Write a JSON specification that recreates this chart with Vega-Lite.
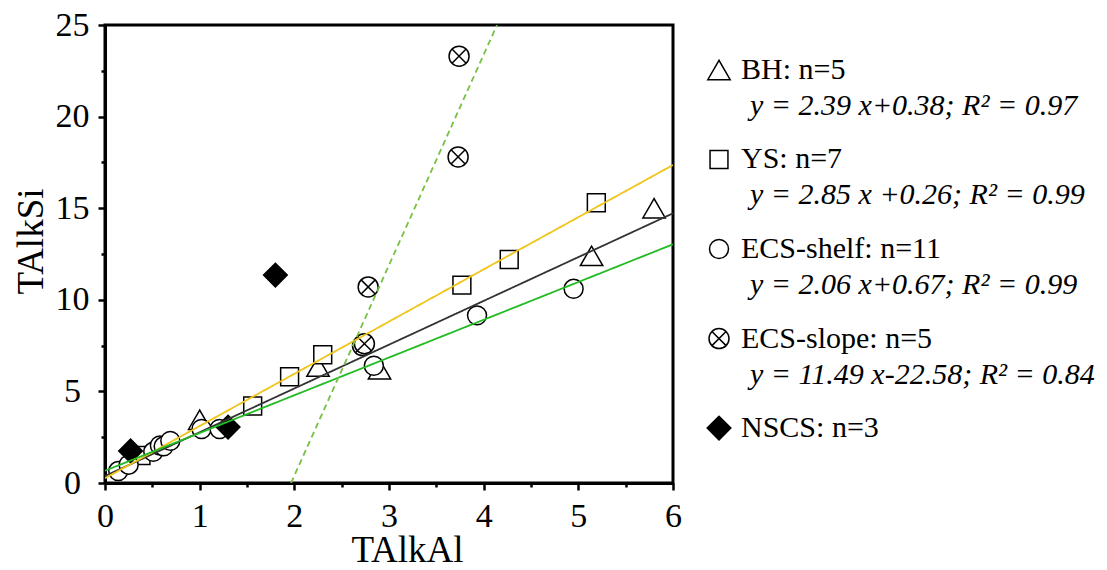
{
  "$schema": "https://vega.github.io/schema/vega-lite/v6.json",
  "padding": {"left": 10, "top": 6, "right": 5, "bottom": 0},
  "background": "white",
  "config": {
    "font": "Liberation Serif",
    "axis": {"labelFont": "Liberation Serif", "titleFont": "Liberation Serif"},
    "text": {"font": "Liberation Serif"},
    "view": {"stroke": null}
  },
  "datasets": {
    "pts": [
      {"group": "BH", "x": 1.0, "y": 3.45},
      {"group": "BH", "x": 2.25, "y": 6.35},
      {"group": "BH", "x": 2.9, "y": 6.2},
      {"group": "BH", "x": 5.14, "y": 12.4},
      {"group": "BH", "x": 5.8, "y": 15.0},
      {"group": "YS", "x": 0.38, "y": 1.5},
      {"group": "YS", "x": 1.56, "y": 4.2},
      {"group": "YS", "x": 1.95, "y": 5.8},
      {"group": "YS", "x": 2.3, "y": 7.0},
      {"group": "YS", "x": 3.77, "y": 10.8},
      {"group": "YS", "x": 4.27, "y": 12.2},
      {"group": "YS", "x": 5.19, "y": 15.3},
      {"group": "ECS-shelf", "x": 0.14, "y": 0.65},
      {"group": "ECS-shelf", "x": 0.25, "y": 1.0},
      {"group": "ECS-shelf", "x": 0.51, "y": 1.7},
      {"group": "ECS-shelf", "x": 0.58, "y": 2.05},
      {"group": "ECS-shelf", "x": 0.62, "y": 2.0},
      {"group": "ECS-shelf", "x": 0.69, "y": 2.3},
      {"group": "ECS-shelf", "x": 1.02, "y": 2.95},
      {"group": "ECS-shelf", "x": 1.21, "y": 2.95},
      {"group": "ECS-shelf", "x": 2.84, "y": 6.4},
      {"group": "ECS-shelf", "x": 3.93, "y": 9.15},
      {"group": "ECS-shelf", "x": 4.95, "y": 10.6},
      {"group": "ECS-slope", "x": 3.74, "y": 23.3},
      {"group": "ECS-slope", "x": 3.73, "y": 17.8},
      {"group": "ECS-slope", "x": 2.78, "y": 10.7},
      {"group": "ECS-slope", "x": 2.72, "y": 7.5},
      {"group": "ECS-slope", "x": 2.74, "y": 7.6},
      {"group": "NSCS", "x": 0.27, "y": 1.75},
      {"group": "NSCS", "x": 1.3, "y": 3.05},
      {"group": "NSCS", "x": 1.8, "y": 11.35}
    ],
    "fits": [
      {"group": "BH", "x": 0, "y": 0.38},
      {"group": "BH", "x": 6, "y": 14.72},
      {"group": "YS", "x": 0, "y": 0.26},
      {"group": "YS", "x": 6, "y": 17.36},
      {"group": "ECS-shelf", "x": 0, "y": 0.67},
      {"group": "ECS-shelf", "x": 6, "y": 13.03},
      {"group": "ECS-slope", "x": 1.965, "y": 0},
      {"group": "ECS-slope", "x": 4.141, "y": 25}
    ],
    "leg": [
      {"group": "BH", "kind": "head", "label": "BH: n=5"},
      {"group": "BH", "kind": "eq", "label": "y = 2.39 x+0.38; R² = 0.97"},
      {"group": "YS", "kind": "head", "label": "YS: n=7"},
      {"group": "YS", "kind": "eq", "label": "y = 2.85 x +0.26; R² = 0.99"},
      {"group": "ECS-shelf", "kind": "head", "label": "ECS-shelf: n=11"},
      {"group": "ECS-shelf", "kind": "eq", "label": "y = 2.06 x+0.67; R² = 0.99"},
      {"group": "ECS-slope", "kind": "head", "label": "ECS-slope: n=5"},
      {"group": "ECS-slope", "kind": "eq", "label": "y = 11.49 x-22.58; R² = 0.84"},
      {"group": "NSCS", "kind": "head", "label": "NSCS: n=3"}
    ]
  },
  "hconcat": [
    {
      "width": 568,
      "height": 458,
      "view": {"stroke": "black", "strokeWidth": 3},
      "layer": [
        {
          "data": {"name": "pts"},
          "mark": {"type": "point", "stroke": "black", "strokeWidth": 1.5, "opacity": 1, "fillOpacity": 1, "clip": true},
          "encoding": {
            "x": {"field": "x", "type": "quantitative",
              "scale": {"domain": [0, 6], "nice": false, "zero": false},
              "axis": {"orient": "bottom", "values": [0, 1, 2, 3, 4, 5, 6], "grid": false, "tickSize": 7, "tickWidth": 2.5, "tickColor": "black",
                "domainWidth": 3, "domainColor": "black", "labelFont": "Liberation Serif", "labelFontSize": 34, "labelColor": "black", "labelBaseline": "alphabetic",
                "labelPadding": 36, "labelFlush": false, "labelOverlap": false, "format": "d",
                "title": "TAlkAl", "titleFont": "Liberation Serif", "titleFontSize": 37, "titleFontWeight": "normal", "titleColor": "black",
                "titleX": 302, "titleY": 78, "titleBaseline": "alphabetic", "titleAlign": "center"}},
            "y": {"field": "y", "type": "quantitative",
              "scale": {"domain": [0, 25], "nice": false, "zero": false},
              "axis": {"orient": "left", "values": [0, 5, 10, 15, 20, 25], "grid": false, "tickSize": 7, "tickWidth": 2.5, "tickColor": "black",
                "domainWidth": 3, "domainColor": "black", "labelFont": "Liberation Serif", "labelFontSize": 34, "labelColor": "black", "labelAlign": "center",
                "labelBaseline": "middle", "labelPadding": 26, "labelFlush": false, "labelOverlap": false, "format": "d",
                "title": "TAlkSi", "titleFont": "Liberation Serif", "titleFontSize": 37, "titleFontWeight": "normal", "titleColor": "black",
                "titleX": -74, "titleY": 216, "titleAngle": -90, "titleBaseline": "middle", "titleAlign": "center"}},
            "shape": {"field": "group", "type": "nominal", "legend": null,
              "scale": {"type": "ordinal", "domain": ["BH", "YS", "ECS-shelf", "ECS-slope", "NSCS"],
                "range": ["triangle-up", "square", "circle", "M-1,0A1,1,0,1,0,1,0A1,1,0,1,0,-1,0ZM-0.7071,-0.7071L0.7071,0.7071M-0.7071,0.7071L0.7071,-0.7071", "diamond"]}},
            "size": {"field": "group", "type": "nominal", "legend": null,
              "scale": {"type": "ordinal", "domain": ["BH", "YS", "ECS-shelf", "ECS-slope", "NSCS"], "range": [500, 320, 360, 400, 560]}},
            "fill": {"field": "group", "type": "nominal", "legend": null,
              "scale": {"type": "ordinal", "domain": ["BH", "YS", "ECS-shelf", "ECS-slope", "NSCS"], "range": ["white", "white", "white", "white", "black"]}}
          }
        },
        {
          "data": {"name": "fits"},
          "mark": {"type": "line", "strokeWidth": 1.8, "clip": true},
          "encoding": {
            "x": {"field": "x", "type": "quantitative",
              "axis": {"orient": "bottom", "values": [0.5, 1.5, 2.5, 3.5, 4.5, 5.5], "grid": false, "labels": false, "domain": false,
                "tickSize": 4, "tickWidth": 2.5, "tickColor": "black", "title": null}},
            "y": {"field": "y", "type": "quantitative",
              "axis": {"orient": "left", "values": [2.5, 7.5, 12.5, 17.5, 22.5], "grid": false, "labels": false, "domain": false,
                "tickSize": 4, "tickWidth": 2.5, "tickColor": "black", "title": null}},
            "detail": {"field": "group"},
            "color": {"field": "group", "type": "nominal", "legend": null,
              "scale": {"domain": ["BH", "YS", "ECS-shelf", "ECS-slope"], "range": ["#333333", "#f0c419", "#22bb22", "#77c043"]}},
            "strokeDash": {"field": "group", "type": "nominal", "legend": null,
              "scale": {"domain": ["BH", "YS", "ECS-shelf", "ECS-slope"], "range": [[1, 0], [1, 0], [1, 0], [6, 4]]}}
          }
        }
      ],
      "resolve": {"axis": {"x": "independent", "y": "independent"}}
    },
    {
      "width": 400,
      "height": 448,
      "data": {"name": "leg"},
      "encoding": {
        "y": {"field": "group", "type": "nominal", "axis": null, "sort": null,
          "scale": {"type": "point", "domain": ["BH", "YS", "ECS-shelf", "ECS-slope", "NSCS"], "padding": 0.502}},
        "yOffset": {"field": "kind", "type": "nominal",
          "scale": {"type": "point", "domain": ["head", "eq"], "range": [0, 36], "padding": 0}}
      },
      "layer": [
        {
          "transform": [{"filter": "datum.kind === 'head'"}],
          "mark": {"type": "point", "stroke": "black", "strokeWidth": 1.5, "opacity": 1, "fillOpacity": 1},
          "encoding": {
            "x": {"datum": 28, "type": "quantitative", "scale": {"domain": [0, 400], "nice": false, "zero": false}, "axis": null},
            "shape": {"field": "group", "type": "nominal", "legend": null,
              "scale": {"type": "ordinal", "domain": ["BH", "YS", "ECS-shelf", "ECS-slope", "NSCS"],
                "range": ["triangle-up", "square", "circle", "M-1,0A1,1,0,1,0,1,0A1,1,0,1,0,-1,0ZM-0.7071,-0.7071L0.7071,0.7071M-0.7071,0.7071L0.7071,-0.7071", "diamond"]}},
            "size": {"field": "group", "type": "nominal", "legend": null,
              "scale": {"type": "ordinal", "domain": ["BH", "YS", "ECS-shelf", "ECS-slope", "NSCS"], "range": [500, 320, 360, 400, 560]}},
            "fill": {"field": "group", "type": "nominal", "legend": null,
              "scale": {"type": "ordinal", "domain": ["BH", "YS", "ECS-shelf", "ECS-slope", "NSCS"], "range": ["white", "white", "white", "white", "black"]}}
          }
        },
        {
          "transform": [{"filter": "datum.kind === 'head'"}],
          "mark": {"type": "text", "align": "left", "baseline": "middle", "font": "Liberation Serif", "fontSize": 30, "color": "black"},
          "encoding": {
            "x": {"datum": 50, "type": "quantitative"},
            "text": {"field": "label"}
          }
        },
        {
          "transform": [{"filter": "datum.kind === 'eq'"}],
          "mark": {"type": "text", "align": "left", "baseline": "middle", "font": "Liberation Serif", "fontSize": 30, "fontStyle": "italic", "color": "black"},
          "encoding": {
            "x": {"datum": 59, "type": "quantitative"},
            "text": {"field": "label"}
          }
        }
      ]
    }
  ],
  "spacing": 8
}
